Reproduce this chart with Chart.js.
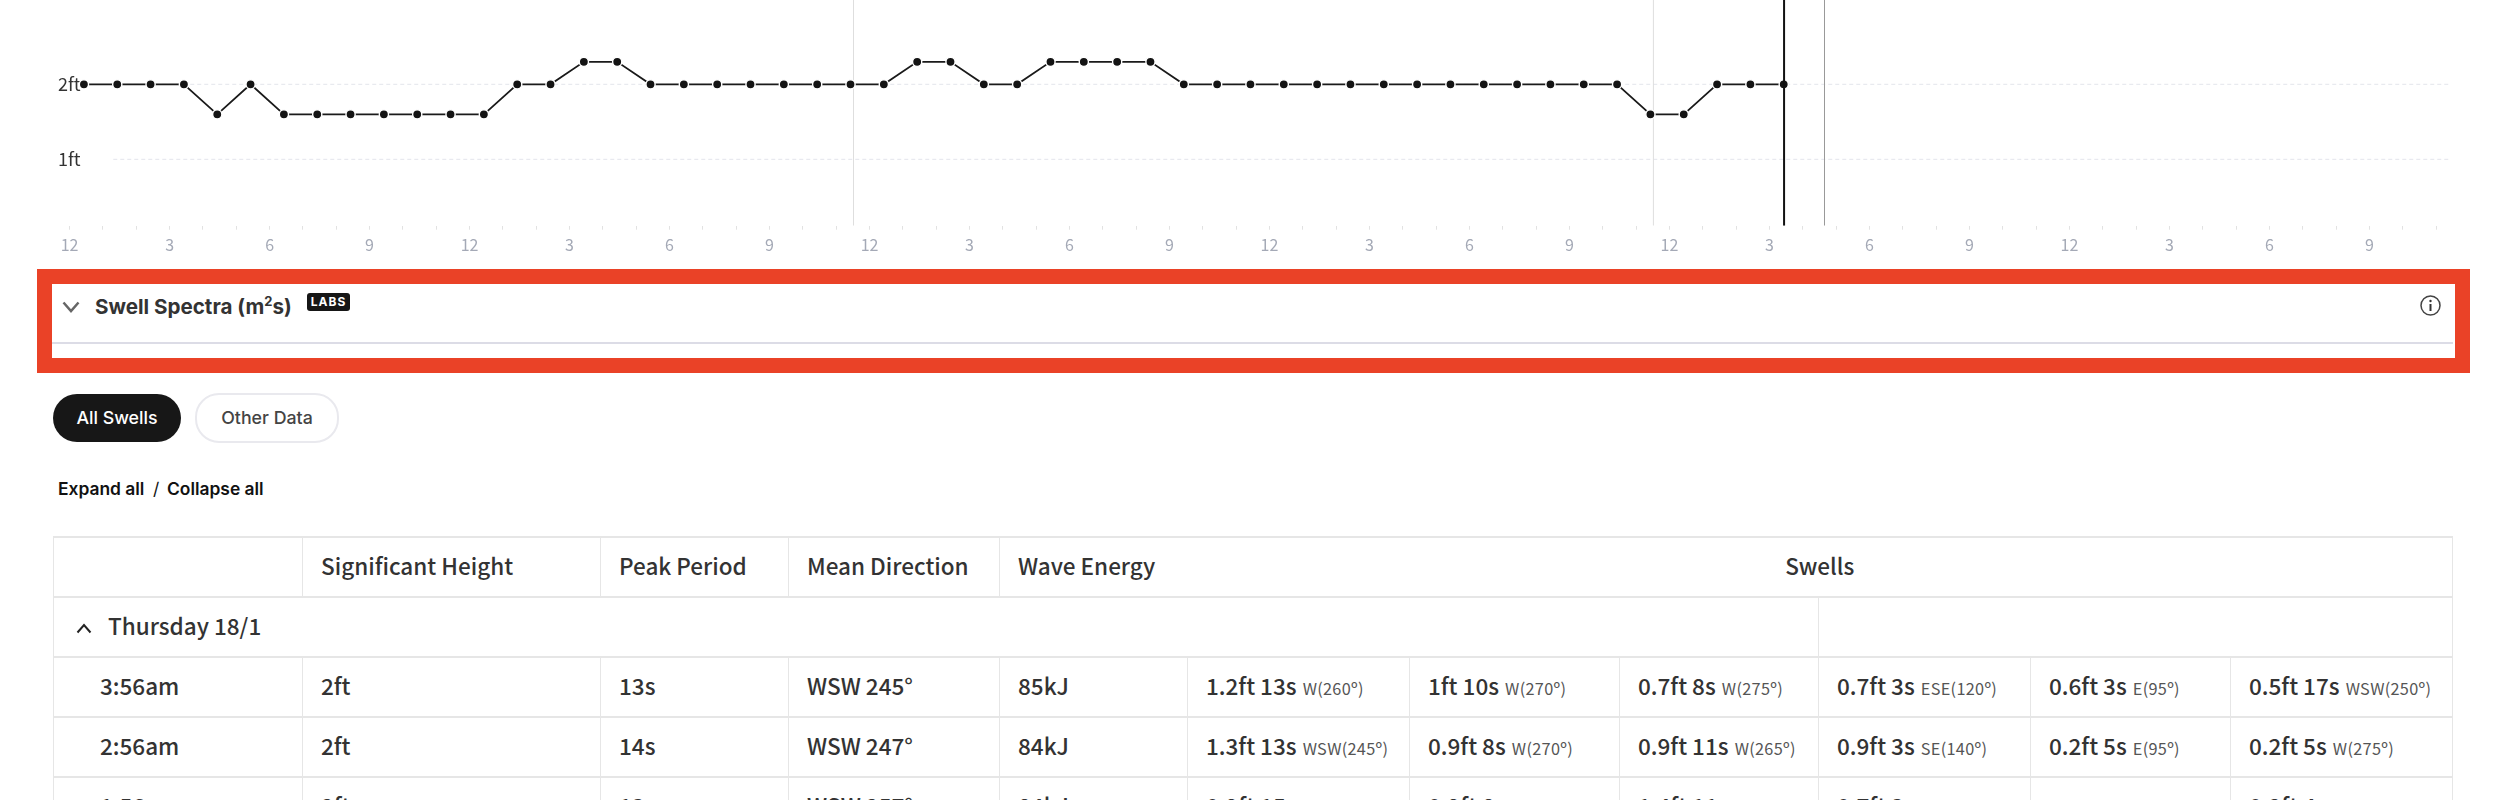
<!DOCTYPE html>
<html>
<head>
<meta charset="utf-8">
<script src="https://cdn.jsdelivr.net/npm/chart.js@4"></script>
<style>
html, body { margin: 0; background: #fff; width: 2508px; height: 800px; overflow: hidden; }
#swellChart { position: absolute; left: 0; top: 0; }
.abs { position: absolute; white-space: nowrap; }
#redBox { left: 37px; top: 269px; width: 2403px; height: 74px; border: 15px solid #ea4227; }
#divider { left: 52px; top: 341.5px; width: 2401px; height: 2px; background: #dcdce6; }
#title { left: 95px; top: 293px; font: 700 20.6px/28px Inter, sans-serif; color: #333; }
#title sup { font-size: 13px; line-height: 0; }
#labs { left: 307px; top: 293px; width: 43px; height: 18px; border-radius: 3px; background: #161616; color: #fff;
    font: 700 12px/18px Inter, sans-serif; letter-spacing: 1px; text-align: center; }
.btn { height: 48px; border-radius: 24px; font: 500 17.8px/48px Inter, sans-serif; text-align: center; box-sizing: border-box; }
#allSwells { left: 53px; top: 394px; width: 128px; background: #171717; color: #fff; }
#otherData { left: 195px; top: 393px; width: 144px; height: 50px; border: 2px solid #e9e9ee; color: #444; line-height: 46px; }
.link { top: 478px; font: 600 17.4px/22px Inter, sans-serif; color: #111; }
table { position: absolute; left: 53px; top: 536px; width: 2399px; table-layout: fixed; border-collapse: collapse;
    font: 500 22.5px "Noto Sans CJK SC", sans-serif; color: #333; }
td { height: 60px; padding: 0 0 5px 18px; box-sizing: border-box; border: 1px solid #e6e6e6; border-top: 2px solid #e6e6e6; border-bottom: 2px solid #e6e6e6; white-space: nowrap; overflow: hidden; }
td.time { padding-left: 46px; }
td.plain { border-right: 0; }
td.center { text-align: center; padding: 0 0 5px 0; border-left: 0; }
td.day { padding-left: 54px; position: relative; }
small { font-size: 16.3px; font-weight: 400; color: #555; letter-spacing: 0.3px; margin-left: 1px; }
</style>
</head>
<body>
<canvas id="swellChart" width="2508" height="262"></canvas>

<div class="abs" id="redBox"></div>
<div class="abs" id="divider"></div>
<svg class="abs" style="left:62px;top:301px" width="18" height="12" viewBox="0 0 18 12"><path d="M1.5 1.5 L9 10 L16.5 1.5" fill="none" stroke="#666" stroke-width="2.5"/></svg>
<div class="abs" id="title">Swell Spectra (m<sup>2</sup>s)</div>
<div class="abs" id="labs">LABS</div>
<svg class="abs" style="left:2420px;top:295px" width="21" height="21" viewBox="0 0 21 21"><circle cx="10.5" cy="10.5" r="9.5" fill="none" stroke="#444" stroke-width="1.5"/><path d="M10.5 9 V16" stroke="#333" stroke-width="2"/><circle cx="10.5" cy="6" r="1.2" fill="#333"/></svg>
<div class="abs btn" id="allSwells">All Swells</div>
<div class="abs btn" id="otherData">Other Data</div>
<div class="abs link" style="left:58px">Expand all</div>
<div class="abs link" style="left:153px;font-weight:400">/</div>
<div class="abs link" style="left:167px">Collapse all</div>
<svg class="abs" style="left:76px;top:623px;z-index:2" width="16" height="11" viewBox="0 0 16 11"><path d="M1.5 9.5 L8 2 L14.5 9.5" fill="none" stroke="#222" stroke-width="2"/></svg>

<table id="dataTable"></table>

<script>
// hours since the first tick, one reading per hour
const readingHours = [
    0.43, 1.43, 2.43, 3.43, 4.43, 5.43, 6.43, 7.43, 8.43, 9.43, 10.43, 11.43, 12.43,
    13.43, 14.43, 15.43, 16.43, 17.43, 18.43, 19.43, 20.43, 21.43, 22.43, 23.43, 24.43, 25.43,
    26.43, 27.43, 28.43, 29.43, 30.43, 31.43, 32.43, 33.43, 34.43, 35.43, 36.43, 37.43, 38.43,
    39.43, 40.43, 41.43, 42.43, 43.43, 44.43, 45.43, 46.43, 47.43, 48.43, 49.43, 50.43, 51.43
];
const heightFt = [
    2, 2, 2, 2, 1.6, 2, 1.6, 1.6, 1.6, 1.6, 1.6, 1.6, 1.6,
    2, 2, 2.3, 2.3, 2, 2, 2, 2, 2, 2, 2, 2, 2.3,
    2.3, 2, 2, 2.3, 2.3, 2.3, 2.3, 2, 2, 2, 2, 2, 2,
    2, 2, 2, 2, 2, 2, 2, 2, 1.6, 1.6, 2, 2, 2
];
const tickLabels = [
    '12', '', '', '3', '', '', '6', '', '', '9', '', '',
    '12', '', '', '3', '', '', '6', '', '', '9', '', '',
    '12', '', '', '3', '', '', '6', '', '', '9', '', '',
    '12', '', '', '3', '', '', '6', '', '', '9', '', '',
    '12', '', '', '3', '', '', '6', '', '', '9', '', '',
    '12', '', '', '3', '', '', '6', '', '', '9', '', ''
];
const yTicks = [1, 2];
const dayBreakHours = [23.52, 47.52];
const nowHour = 51.44;
const forecastHour = 52.653;

const tableHeader = ['', 'Significant Height', 'Peak Period', 'Mean Direction', 'Wave Energy'];
const swellsTitle = 'Swells';
const dayTitle = 'Thursday 18/1';
const columnWidths = [249, 298, 188, 211, 188, 222, 210, 199, 212, 200, 222];
const rowTimes = ['3:56am', '2:56am', '1:56am'];
const rowHeights = ['2ft', '2ft', '2ft'];
const rowPeriods = ['13s', '14s', '13s'];
const rowDirections = ['WSW 245°', 'WSW 247°', 'WSW 257°'];
const rowEnergy = ['85kJ', '84kJ', '84kJ'];
const rowSwells = [
    [['1.2ft 13s', 'W(260º)'], ['1ft 10s', 'W(270º)'], ['0.7ft 8s', 'W(275º)'], ['0.7ft 3s', 'ESE(120º)'], ['0.6ft 3s', 'E(95º)'], ['0.5ft 17s', 'WSW(250º)']],
    [['1.3ft 13s', 'WSW(245º)'], ['0.9ft 8s', 'W(270º)'], ['0.9ft 11s', 'W(265º)'], ['0.9ft 3s', 'SE(140º)'], ['0.2ft 5s', 'E(95º)'], ['0.2ft 5s', 'W(275º)']],
    [['0.9ft 15s', ''], ['0.9ft 8s', ''], ['1.4ft 11s', ''], ['0.7ft 3s', ''], ['', ''], ['0.2ft 4s', '']]
];

function buildTable() {
    let html = '<colgroup>' + columnWidths.map(w => `<col style="width:${w}px">`).join('') + '</colgroup>';
    html += '<tr>' + tableHeader.map(h => `<td>${h}</td>`).join('').replace(/<td>Wave Energy/, '<td class="plain">Wave Energy');
    html += `<td class="center" colspan="6">${swellsTitle}</td></tr>`;
    html += `<tr><td class="day" colspan="8">${dayTitle}</td><td colspan="3"></td></tr>`;
    rowTimes.forEach((time, i) => {
        html += `<tr><td class="time">${time}</td><td>${rowHeights[i]}</td><td>${rowPeriods[i]}</td><td>${rowDirections[i]}</td><td>${rowEnergy[i]}</td>`;
        rowSwells[i].forEach(s => {
            html += `<td>${s[0]} <small>${s[1]}</small></td>`;
        });
        html += '</tr>';
    });
    document.getElementById('dataTable').innerHTML = html;
}

function verticalLine(hour, color, width) {
    return {
        data: [{ x: hour, y: Y_MIN }, { x: hour, y: Y_MAX }],
        borderColor: color,
        borderWidth: width,
        pointRadius: 0
    };
}

function guideLine(value) {
    return {
        data: [{ x: GUIDE_START, y: value }, { x: X_MAX, y: value }],
        borderColor: '#e3e5ec',
        borderWidth: 1,
        borderDash: [4, 3],
        pointRadius: 0
    };
}

const X_MIN = -0.888;
const X_MAX = 71.42;
const Y_MIN = 0.115;
const Y_MAX = 3.124;
const GUIDE_START = 1.31;

buildTable();

const ctx = document.getElementById('swellChart').getContext('2d');

new Chart(ctx, {
    type: 'line',
    data: {
        datasets: [
            verticalLine(nowHour, '#111', 2),
            {
                data: readingHours.map((h, i) => ({ x: h, y: heightFt[i] })),
                borderColor: '#1a1a1a',
                borderWidth: 1.8,
                tension: 0,
                pointRadius: 4.6,
                pointBackgroundColor: '#141414',
                pointBorderColor: '#fff',
                pointBorderWidth: 1.4
            },
            verticalLine(forecastHour, '#999', 1),
            verticalLine(dayBreakHours[0], '#dedede', 1),
            verticalLine(dayBreakHours[1], '#dedede', 1),
            guideLine(yTicks[1]),
            guideLine(yTicks[0])
        ]
    },
    options: {
        responsive: false,
        animation: false,
        layout: { autoPadding: false, padding: { left: 40, right: 58, top: 0, bottom: 0 } },
        plugins: { legend: { display: false }, tooltip: { enabled: false } },
        scales: {
            x: {
                type: 'linear',
                min: X_MIN,
                max: X_MAX,
                afterBuildTicks: scale => {
                    scale.ticks = tickLabels.map((_, i) => ({ value: i }));
                },
                afterFit: scale => {
                    scale.height = 36.3;
                    scale.paddingLeft = 0;
                    scale.paddingRight = 0;
                },
                border: { display: false },
                grid: { drawOnChartArea: false, tickLength: 4, tickColor: '#e2e2e2', tickWidth: 1 },
                ticks: {
                    autoSkip: false,
                    maxRotation: 0,
                    padding: 6,
                    color: '#a4a9b6',
                    font: { family: '"Noto Sans CJK SC", sans-serif', size: 16 },
                    callback: (value, i) => tickLabels[i]
                }
            },
            y: {
                min: Y_MIN,
                max: Y_MAX,
                afterBuildTicks: scale => {
                    scale.ticks = yTicks.map(v => ({ value: v }));
                },
                afterFit: scale => {
                    scale.width = 0;
                    scale.paddingTop = 0;
                    scale.paddingBottom = 0;
                },
                border: { display: false },
                grid: { display: false },
                ticks: {
                    mirror: true,
                    padding: 18,
                    color: '#333',
                    font: { family: '"Noto Sans CJK SC", sans-serif', size: 18 },
                    callback: value => `${value}ft`
                }
            }
        }
    }
});
</script>
</body>
</html>
